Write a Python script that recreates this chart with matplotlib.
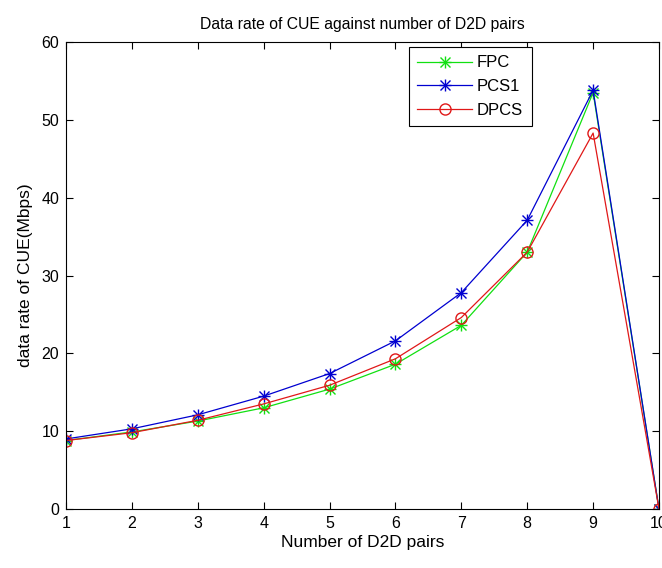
import matplotlib
matplotlib.use("Agg")
import matplotlib.pyplot as plt
from matplotlib.legend_handler import HandlerTuple

plt.rcParams['font.family'] = ['Liberation Sans', 'DejaVu Sans']

pairs = [1, 2, 3, 4, 5, 6, 7, 8, 9, 10]
fpc = [8.8, 9.9, 11.3, 13.0, 15.4, 18.6, 23.6, 33.0, 53.5, 0.0]
pcs1 = [9.0, 10.3, 12.1, 14.5, 17.4, 21.6, 27.8, 37.1, 53.8, 0.0]
dpcs = [8.8, 9.8, 11.4, 13.5, 15.9, 19.3, 24.6, 33.0, 48.3, 0.0]

fig = plt.figure(figsize=(6.62, 5.68), dpi=100)
ax = fig.add_axes([66/662, 1 - 509/568, (659 - 66)/662, (509 - 42)/568])


def asterisk_line(x, y, color, label):
    """Line with an eight-armed asterisk marker (plus overlaid with a cross)."""
    line, = ax.plot(x, y, color=color, marker='+', markersize=9,
                    markeredgewidth=1.0, linewidth=0.9, label=label)
    cross, = ax.plot(x, y, color=color, marker='x', markersize=6.5,
                     markeredgewidth=1.0, linestyle='none')
    return (line, cross)


h_fpc = asterisk_line(pairs, fpc, '#11e011', 'FPC')
h_pcs1 = asterisk_line(pairs, pcs1, '#0000d0', 'PCS1')
h_dpcs, = ax.plot(pairs, dpcs, color='#e01818', marker='o', markersize=8,
                  linewidth=0.9, markerfacecolor='none', markeredgewidth=1.0,
                  label='DPCS')

ax.set_xlim(1, 10)
ax.set_ylim(0, 60)
ax.set_xticks(range(1, 11))
ax.set_yticks(range(0, 61, 10))
ax.tick_params(direction='in', length=5, top=True, right=True,
               labelsize=11.5, width=0.8, pad=5)
for s in ax.spines.values():
    s.set_linewidth(0.8)

ax.set_title('Data rate of CUE against number of D2D pairs', fontsize=11.3, pad=9)
ax.set_xlabel('Number of D2D pairs', fontsize=12.5, labelpad=3)
ax.set_ylabel('data rate of CUE(Mbps)', fontsize=12.5, labelpad=6)

leg = ax.legend([h_fpc, h_pcs1, h_dpcs], ['FPC', 'PCS1', 'DPCS'],
                handler_map={tuple: HandlerTuple(ndivide=1)},
                loc='upper left', bbox_to_anchor=(0.578, 0.989), fontsize=12,
                fancybox=False, edgecolor='black', framealpha=1,
                handlelength=3.3, borderpad=0.5, labelspacing=0.53,
                handletextpad=0.3, borderaxespad=0)
leg.get_frame().set_linewidth(0.8)

fig.savefig('out.png', dpi=100)
